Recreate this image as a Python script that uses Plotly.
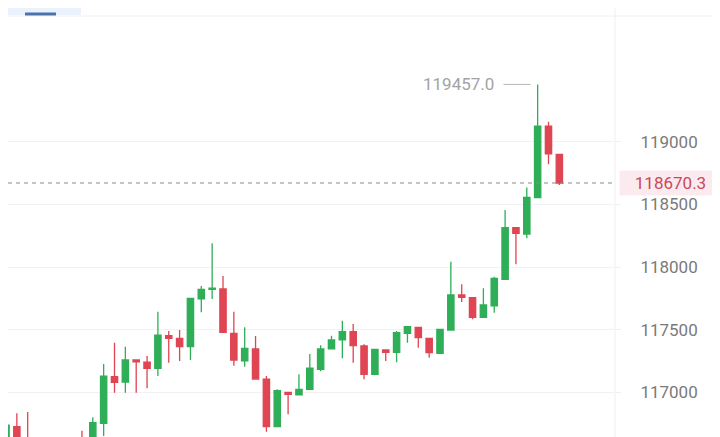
import plotly.graph_objects as go

# ---- data ----
idx = list(range(52))
opens = [116550, 116727, 116600, 116480, 116400, 116520, 116450, 116620, 116600, 116753,
         117125, 117082, 117258, 117240, 117192, 117452, 117431, 117364, 117745, 117822,
         117825, 117471, 117252, 117346, 117106, 116726, 117000, 116979, 117024, 117184,
         117346, 117418, 117484, 117370, 117144, 117338, 117319, 117471, 117519, 117431,
         117311, 117497, 117777, 117755, 117599, 117691, 117902, 118314, 118263, 118553,
         119125, 118899]
highs = [116745, 116833, 116843, 116600, 116560, 116610, 116580, 116694, 116801, 117226,
         117396, 117364, 117262, 117290, 117643, 117489, 117497, 117755, 117848, 118189,
         117928, 117643, 117519, 117449, 117130, 117024, 117003, 117144, 117306, 117375,
         117452, 117572, 117545, 117383, 117343, 117340, 117489, 117524, 117519, 117431,
         117503, 118042, 117862, 117755, 117830, 117923, 118455, 118314, 118635, 119457.0,
         119160, 118902]
lows = [116500, 116520, 116420, 116350, 116300, 116420, 116380, 116520, 116560, 116651,
        116997, 116997, 116997, 117032, 117130, 117236, 117250, 117258, 117639, 117745,
        117479, 117212, 117204, 117106, 116686, 116726, 116825, 116979, 117024, 117168,
        117346, 117272, 117236, 117104, 117144, 117250, 117240, 117396, 117356, 117276,
        117311, 117497, 117721, 117583, 117599, 117635, 117902, 118022, 118229, 118553,
        118820, 118654.5]
closes = [116739, 116560, 116480, 116400, 116520, 116450, 116540, 116560, 116758, 117130,
          117080, 117258, 117244, 117192, 117457, 117431, 117364, 117750, 117822, 117832,
          117479, 117258, 117351, 117106, 116726, 117013, 116984, 117024, 117192, 117346,
          117418, 117484, 117372, 117144, 117343, 117319, 117476, 117524, 117436, 117316,
          117503, 117777, 117758, 117599, 117697, 117910, 118314, 118269, 118556, 119125,
          118902, 118670.3]
tick_values = [117000, 117500, 118000, 118500, 119000]
tick_labels = ["117000", "117500", "118000", "118500", "119000"]

GREEN = "#2FAE58"
RED = "#DF4552"
OFF = 8  # page body margin
W, H = 720 - OFF, 437 - OFF
ML, MR, MT, MB = 0, 105, 16 - OFF, 0
PW = W - ML - MR
PH = H - MT - MB

fig = go.Figure()
fig.add_trace(go.Candlestick(
    x=idx, open=opens, high=highs, low=lows, close=closes,
    increasing=dict(line=dict(color=GREEN, width=1.3), fillcolor=GREEN),
    decreasing=dict(line=dict(color=RED, width=1.3), fillcolor=RED),
    whiskerwidth=0, hoverinfo="skip", showlegend=False,
))

# last price dashed line + label
last = closes[-1]
fig.add_shape(type="line", xref="paper", yref="y", x0=0, x1=1, y0=last, y1=last,
              line=dict(color="#8a8a8a", width=1, dash="4px,4px"), layer="above")
fig.add_annotation(xref="paper", yref="y", x=(619 - OFF) / PW, y=last, xanchor="left", yanchor="middle",
                   text=f"{last:.1f}", showarrow=False, width=101, height=24, borderpad=0,
                   bgcolor="#FCEBEE", font=dict(family="Roboto", size=17, color="#C9485A"))

# max marker
imax = max(idx, key=lambda i: highs[i])
hmax = highs[imax]
fig.add_shape(type="line", xref="x", yref="y", x0=imax - 3.15, x1=imax - 0.65, y0=hmax, y1=hmax,
              line=dict(color="#b5b5b5", width=1))
fig.add_annotation(xref="x", yref="y", x=imax - 3.8, y=hmax, xanchor="right", yanchor="middle",
                   text=f"{hmax:.1f}", showarrow=False,
                   font=dict(family="Roboto", size=17, color="#A3A3A3"))

# separators and decorations
fig.add_shape(type="line", xref="paper", yref="paper", x0=1, x1=1, y0=0, y1=1 + MT / PH,
              line=dict(color="#EFEFEF", width=1))
fig.add_shape(type="line", xref="paper", yref="paper", x0=0, x1=W / PW, y0=1, y1=1,
              line=dict(color="#F0F0F0", width=1))
for tv in tick_values:
    fig.add_shape(type="line", xref="paper", yref="y", x0=(712 - OFF) / PW, x1=W / PW, y0=tv, y1=tv,
                  line=dict(color="#F2F2F2", width=1))
fig.add_shape(type="rect", xref="paper", yref="paper", x0=0, x1=(81 - OFF) / PW,
              y0=1 + 1 / PH, y1=1 + MT / PH, line=dict(width=0), fillcolor="#EAF2FD")
fig.add_shape(type="rect", xref="paper", yref="paper", x0=(25 - OFF) / PW, x1=(56 - OFF) / PW,
              y0=1 + 0.5 / PH, y1=1 + 3.5 / PH, line=dict(width=0), fillcolor="#4C72AE")

step = 10.85
x0px = 6 - OFF
fig.update_layout(
    width=W, height=H, margin=dict(l=ML, r=MR, t=MT, b=MB),
    paper_bgcolor="white", plot_bgcolor="white",
    boxgap=0.42, boxgroupgap=0,
    xaxis=dict(range=[-x0px / step, (PW - x0px) / step], showgrid=False, zeroline=False,
               showticklabels=False, rangeslider=dict(visible=False), fixedrange=True),
    yaxis=dict(side="right", range=[116643.5, 120003], tickvals=tick_values, ticktext=tick_labels,
               showgrid=True, gridcolor="#F2F2F2", gridwidth=1, zeroline=False,
               ticks="outside", ticklen=5, tickcolor="#EFEFEF", ticklabelstandoff=16,
               tickfont=dict(family="Roboto", size=17, color="#7A7A7A")),
    font=dict(family="Roboto"),
)

fig.write_html("out.html")
